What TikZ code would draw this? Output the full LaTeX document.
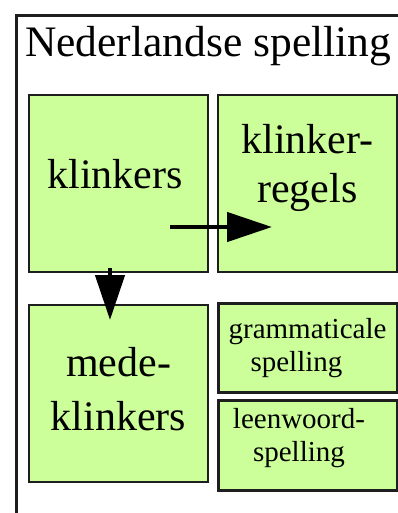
\documentclass[tikz,border=0pt]{standalone}
\usepackage{fontspec}
\setmainfont{Liberation Serif}
\usetikzlibrary{arrows.meta, positioning}
\definecolor{boxgreen}{RGB}{204,255,153}
\definecolor{edgegray}{RGB}{30,30,30}
\tikzset{
    spelbox/.style={rectangle, draw=edgegray, fill=boxgreen, line width=#1, outer sep=0pt, inner sep=0pt, minimum width=179pt},
    bigbox/.style={spelbox=2.5pt, minimum height=177pt},
    smallbox/.style={spelbox=3pt, minimum height=89.5pt},
    bigtext/.style={inner sep=0pt, align=center, font=\fontsize{42}{49}\selectfont},
    smalltext/.style={inner sep=0pt, align=center, font=\fontsize{29}{33}\selectfont},
    titletext/.style={inner sep=0pt, font=\fontsize{43.5}{50}\selectfont},
    spelarrow/.style={-{Triangle[length=45pt, width=29pt]}, line width=4.5pt, black},
    frameline/.style={draw=edgegray, line width=3pt}
}

\begin{document}
\begin{tikzpicture}[x=1pt, y=-1pt, node distance=10pt]
\useasboundingbox (0,0) rectangle (398,513);

% outer frame and heading
\draw[frameline] (16.5,513) |- (398,15.8);
\node[titletext, anchor=base west] (title) at (25,57) {Nederlandse spelling};

% boxes
\node[bigbox] (klinkers) at (118.5,183.5) {};
\node[bigbox, right=of klinkers] (regels) {};
\node[bigbox, below=33pt of klinkers] (mede) {};
\node[smallbox, below=31pt of regels] (gram) {};
\node[smallbox, below=8pt of gram] (leen) {};

% box texts
\node[bigtext, xshift=-3.5pt, yshift=9.8pt] (klinkerstext) at (klinkers.center) {klinkers};
\node[bigtext, yshift=15.8pt] (regelstext) at (regels.center) {klinker-\\regels};
\node[bigtext, yshift=4pt] (medetext) at (mede.center) {mede-\\[5pt]klinkers};
\node[smalltext] (gramtext) at (gram.center) {grammaticale\\spelling\hspace*{22pt}};
\node[smalltext, xshift=-8.5pt, yshift=6.7pt] (leentext) at (leen.center) {leenwoord-\\spelling};

% arrows
\draw[spelarrow] ([xshift=-38pt, yshift=-43.5pt]klinkers.east) -- ([xshift=54pt, yshift=-43.5pt]regels.west);
\draw[spelarrow] ([xshift=-8.5pt, yshift=4pt]klinkers.south) -- ([xshift=-8.5pt, yshift=-15pt]mede.north);

\end{tikzpicture}
\end{document}
